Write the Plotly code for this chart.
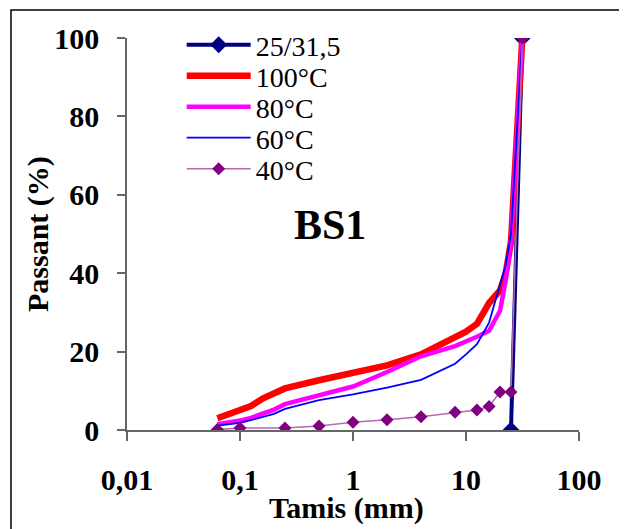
import plotly.graph_objects as go

# sieve openings (mm)
sieves = [0.063, 0.08, 0.1, 0.125, 0.16, 0.2, 0.25, 0.5, 1, 2, 4, 8, 10, 12.5, 16, 20, 22.4, 25, 31.5]

# reference grading 25/31,5
ref_x = [25, 31.5]
ref_y = [0, 100]

# passing (%) per temperature
p100 = [3.0, 4.1, 5.2, 6.1, 8.1, 9.5, 10.6, 12.7, 14.8, 16.5, 19.3, 23.4, 25.1, 27.1, 32.4, 35.6, 39.8, 48.0, 100]
p80 = [1.5, 1.9, 2.4, 3.1, 4.1, 5.2, 6.6, 8.8, 11.1, 14.8, 18.8, 21.4, 22.5, 23.8, 25.3, 30.4, 38.0, 48.0, 100]
p60 = [1.1, 1.5, 1.8, 2.5, 3.3, 4.1, 5.4, 7.6, 9.1, 10.8, 12.8, 16.9, 19.3, 21.9, 27.4, 36.8, 42.0, 50.0, 100]

# 40°C was measured on fewer sieves
x40 = [0.063, 0.1, 0.25, 0.5, 1, 2, 4, 8, 12.5, 16, 20, 25, 31.5]
p40 = [0.1, 0.5, 0.5, 1.0, 2.0, 2.6, 3.4, 4.5, 5.1, 6.0, 9.7, 9.7, 100]

font_serif = '"Liberation Serif", "Times New Roman", serif'

fig = go.Figure()

fig.add_trace(go.Scatter(x=ref_x, y=ref_y, name='25/31,5', mode='lines+markers',
                         line=dict(color='#000080', width=4),
                         marker=dict(symbol='diamond', size=13, color='#000080'),
                         legend='legend'))
fig.add_trace(go.Scatter(x=sieves, y=p100, name='100°C', mode='lines',
                         line=dict(color='#ff0000', width=6.5), legend='legend2'))
fig.add_trace(go.Scatter(x=sieves, y=p80, name='80°C', mode='lines',
                         line=dict(color='#ff00ff', width=4.5), legend='legend3'))
fig.add_trace(go.Scatter(x=sieves, y=p60, name='60°C', mode='lines',
                         line=dict(color='#0000ff', width=1.8), legend='legend4'))
fig.add_trace(go.Scatter(x=x40, y=p40, name='40°C', mode='lines+markers',
                         line=dict(color='#b46ab4', width=1.5),
                         marker=dict(symbol='diamond', size=10, color='#800080'),
                         legend='legend5'))

# one legend per row so the row spacing can follow the original
def leg(ypx):
    return dict(x=0.121, xanchor='left', y=(430 - ypx) / 392, yanchor='middle',
                bgcolor='rgba(0,0,0,0)', itemwidth=64,
                font=dict(family=font_serif, size=28, color='black'))

row_px = [45, 76, 107, 138, 169]

# the page body adds 8px around the figure, so the figure is 8px smaller
fig.update_layout(
    width=619, height=521,
    margin=dict(l=119, r=48, t=30, b=99),
    paper_bgcolor='white', plot_bgcolor='white',
    showlegend=True,
    legend=leg(row_px[0]),
    legend2=leg(row_px[1]),
    legend3=leg(row_px[2]),
    legend4=leg(row_px[3]),
    legend5=leg(row_px[4]),
    xaxis=dict(type='log', range=[-2, 2],
               tickvals=[0.01, 0.1, 1, 10, 100],
               ticktext=['0,01', '0,1', '1', '10', '100'],
               ticks='outside', ticklen=9, tickcolor='#666666', tickwidth=1.5,
               showline=True, linecolor='#666666', linewidth=1.5,
               showgrid=False, zeroline=False, ticklabelstandoff=13,
               tickfont=dict(family=font_serif, size=30, color='black', weight='bold')),
    yaxis=dict(range=[0, 100], tickvals=[0, 20, 40, 60, 80, 100],
               ticks='outside', ticklen=8, tickcolor='#666666', tickwidth=1.5,
               showline=True, linecolor='#666666', linewidth=1.5,
               showgrid=False, zeroline=False, ticklabelstandoff=12,
               tickfont=dict(family=font_serif, size=30, color='black', weight='bold')),
    annotations=[
        dict(text='Passant (%)', xref='paper', yref='paper', x=(38 - 127) / 452, y=0.5,
             textangle=-90, showarrow=False, xanchor='center', yanchor='middle',
             font=dict(family=font_serif, size=30, color='black', weight='bold')),
        dict(text='Tamis (mm)', xref='paper', yref='paper', x=(346 - 127) / 452, y=(430 - 508) / 392,
             showarrow=False, xanchor='center', yanchor='middle',
             font=dict(family=font_serif, size=30, color='black', weight='bold')),
        dict(text='BS1', xref='paper', yref='paper', x=(330 - 127) / 452, y=(430 - 225) / 392,
             showarrow=False, xanchor='center', yanchor='middle',
             font=dict(family=font_serif, size=42, color='black', weight='bold')),
    ],
    shapes=[dict(type='rect', xref='paper', yref='paper',
                 x0=(11 - 127) / 452, x1=(660 - 127) / 452,
                 y0=(430 - 560) / 392, y1=(430 - 10) / 392,
                 line=dict(color='black', width=1.5))],
)

fig.write_html('out.html')
